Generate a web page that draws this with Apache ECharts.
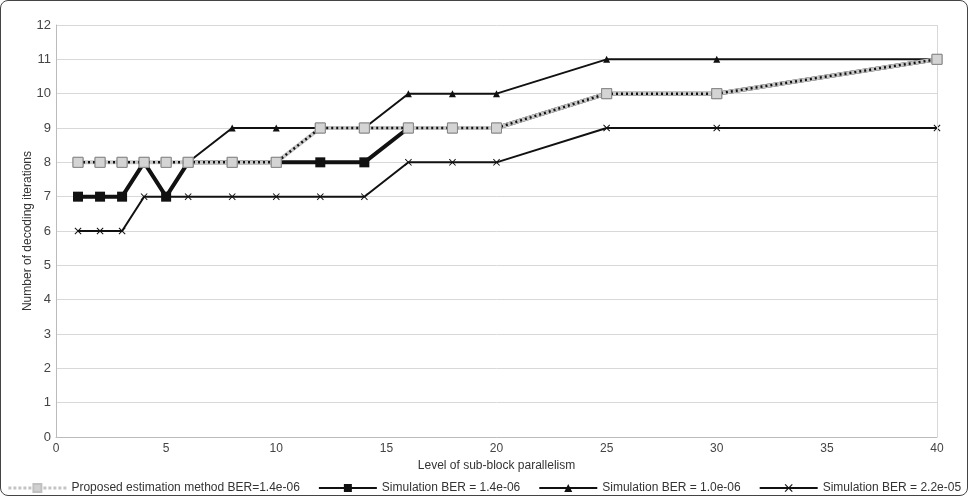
<!DOCTYPE html>
<html>
<head>
<meta charset="utf-8">
<script src="https://cdn.jsdelivr.net/npm/echarts@6/dist/echarts.min.js"></script>
<style>
  html, body { margin: 0; padding: 0; background: #fff; }
  #chart { width: 968px; height: 496px; box-sizing: border-box; border: 1px solid #444; border-radius: 8px; }
</style>
</head>
<body>
<div id="chart"></div>
<script>
// sub-block parallelism levels
const levels = [1, 2, 3, 4, 5, 6, 8, 10, 12, 14, 16, 18, 20, 25, 30, 40]

const proposed = [8, 8, 8, 8, 8, 8, 8, 8, 9, 9, 9, 9, 9, 10, 10, 11]
const sim14 = [7, 7, 7, 8, 7, 8, 8, 8, 8, 8, 9, 9, 9, 10, 10, 11]
const sim10 = [7, 7, 7, 8, 7, 8, 9, 9, 9, 9, 10, 10, 10, 11, 11, 11]
const sim22 = [6, 6, 6, 7, 7, 7, 7, 7, 7, 7, 8, 8, 8, 9, 9, 9]

const names = [
  'Proposed estimation method BER=1.4e-06',
  'Simulation BER = 1.4e-06',
  'Simulation BER = 1.0e-06',
  'Simulation BER = 2.2e-05'
]

const FONT = '"Liberation Sans", Arial, sans-serif'
const crossPath = 'path://M0,1L1,0L5,4L9,0L10,1L6,5L10,9L9,10L5,6L1,10L0,9L4,5Z'

function pairs(ys) {
  return levels.map((x, i) => [x, ys[i]])
}

function lineSeries(name, ys, color, width, symbol, size, z) {
  return {
    name: name,
    type: 'line',
    data: pairs(ys),
    symbol: symbol,
    symbolSize: size,
    showAllSymbol: true,
    z: z,
    lineStyle: { color: color, width: width },
    itemStyle: { color: color, borderColor: color, borderWidth: 0 }
  }
}

const chart = echarts.init(document.getElementById('chart'))

chart.setOption({
  animation: false,
  textStyle: { fontFamily: FONT },
  grid: { left: 55, right: 30, top: 24, bottom: 58 },
  legend: {
    top: 476,
    left: 'center',
    itemWidth: 58,
    itemHeight: 10,
    itemGap: 18,
    textStyle: { fontSize: 12, color: '#333', fontFamily: FONT },
    data: [
      {
        name: names[0],
        lineStyle: { color: '#c4c4c4', width: 3, type: [3, 2] },
        itemStyle: { color: '#d0d0d0', borderColor: '#c0c0c0' }
      },
      names[1], names[2], names[3]
    ]
  },
  xAxis: {
    type: 'value',
    min: 0,
    max: 40,
    interval: 5,
    name: 'Level of sub-block parallelism',
    nameLocation: 'middle',
    nameGap: 22,
    nameTextStyle: { fontSize: 12, color: '#333', fontFamily: FONT },
    axisLine: { show: true, lineStyle: { color: '#bbb' } },
    axisTick: { show: false },
    axisLabel: { fontSize: 12, color: '#444', margin: 6 },
    splitLine: { show: false }
  },
  yAxis: {
    type: 'value',
    min: 0,
    max: 12,
    interval: 1,
    name: 'Number of decoding iterations',
    nameLocation: 'middle',
    nameGap: 22,
    nameMoveOverlap: false,
    nameTextStyle: { fontSize: 12, color: '#333', fontFamily: FONT },
    axisLine: { show: true, lineStyle: { color: '#bbb' } },
    axisTick: { show: false },
    axisLabel: { fontSize: 13, color: '#444', margin: 5 },
    splitLine: { show: true, lineStyle: { color: '#d8d8d8' } }
  },
  series: [
    lineSeries(names[3], sim22, '#111', 2, crossPath, 7, 2),
    lineSeries(names[2], sim10, '#111', 2, 'triangle', 7, 3),
    lineSeries(names[1], sim14, '#111', 4, 'rect', 10, 4),
    {
      name: names[0],
      type: 'line',
      data: pairs(proposed),
      symbol: 'rect',
      symbolSize: 10,
      z: 5,
      lineStyle: { color: '#c8c8c8', width: 4 },
      itemStyle: { color: '#d4d4d4', borderColor: '#888', borderWidth: 1 }
    },
    {
      name: 'proposed-dots',
      type: 'line',
      data: pairs(proposed),
      symbol: 'none',
      z: 6,
      silent: true,
      lineStyle: { color: '#111', width: 2.5, type: [2, 3] }
    },
    {
      // redraw markers above the dots
      name: 'proposed-marks',
      type: 'line',
      data: pairs(proposed),
      symbol: 'rect',
      symbolSize: 10,
      z: 7,
      silent: true,
      lineStyle: { width: 0, opacity: 0 },
      itemStyle: { color: '#d4d4d4', borderColor: '#888', borderWidth: 1 }
    },
    {
      // vertical line at right edge
      type: 'line',
      data: [],
      markLine: {
        silent: true,
        symbol: 'none',
        label: { show: false },
        lineStyle: { color: '#d8d8d8', type: 'solid', width: 1 },
        data: [{ xAxis: 40 }]
      }
    }
  ]
})
</script>
</body>
</html>
